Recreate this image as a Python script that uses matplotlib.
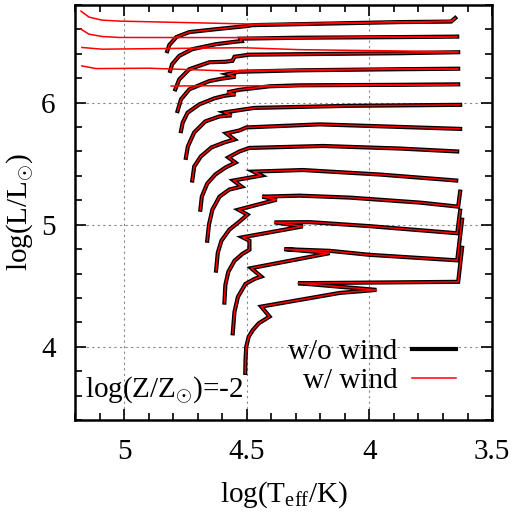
import matplotlib
matplotlib.use("Agg")
from matplotlib import pyplot as plt
from matplotlib.ticker import MultipleLocator

plt.rcParams['font.family'] = 'Liberation Serif'
plt.rcParams['mathtext.fontset'] = 'custom'
plt.rcParams['mathtext.rm'] = 'Liberation Serif'
plt.rcParams['mathtext.it'] = 'Liberation Serif:italic'

# evolutionary tracks without wind, most massive first: log Teff, log L
logT_nowind = [
    [4.824, 4.816, 4.787, 4.734, 4.624, 4.501, 4.476, 4.284, 3.875, 3.667, 3.650],
    [4.812, 4.804, 4.775, 4.722, 4.625, 4.543, 4.521, 4.526, 4.284, 3.875, 3.642],
    [4.791, 4.775, 4.734, 4.652, 4.587, 4.558, 4.550, 4.489, 4.284, 3.875, 3.638],
    [4.782, 4.768, 4.734, 4.652, 4.603, 4.546, 4.579, 4.530, 4.284, 3.875, 3.638],
    [4.768, 4.761, 4.741, 4.693, 4.632, 4.591, 4.546, 4.579, 4.530, 4.407, 4.284, 3.875, 3.638],
    [4.748, 4.740, 4.714, 4.669, 4.611, 4.562, 4.591, 4.509, 4.468, 4.080, 3.630],
    [4.722, 4.714, 4.687, 4.644, 4.591, 4.550, 4.583, 4.530, 4.501, 4.202, 3.875, 3.630],
    [4.689, 4.683, 4.661, 4.628, 4.587, 4.546, 4.575, 4.530, 4.489, 4.190, 3.875, 3.642],
    [4.661, 4.654, 4.640, 4.611, 4.571, 4.521, 4.554, 4.440, 4.472, 4.272, 3.957, 3.646],
    [4.625, 4.618, 4.603, 4.571, 4.530, 4.497, 4.534, 4.378, 4.436, 4.284, 4.080, 3.793,
     3.638, 3.630],
    [4.591, 4.587, 4.575, 4.550, 4.517, 4.489, 4.489, 4.517, 4.272, 4.387, 4.243, 3.998,
     3.642, 3.630],
    [4.557, 4.550, 4.536, 4.505, 4.468, 4.441, 4.482, 4.162, 4.346, 4.162, 3.998, 3.642, 3.622],
    [4.506, 4.505, 4.502, 4.492, 4.475, 4.451, 4.407, 4.441, 4.121, 3.971, 4.291, 4.162,
     3.875, 3.638, 3.622],
]
logL_nowind = [
    [6.422, 6.471, 6.537, 6.578, 6.602, 6.627, 6.635, 6.643, 6.660, 6.664, 6.693],
    [6.260, 6.315, 6.383, 6.438, 6.479, 6.500, 6.504, 6.524, 6.532, 6.537, 6.541],
    [6.109, 6.191, 6.274, 6.331, 6.335, 6.343, 6.376, 6.393, 6.397, 6.405, 6.413],
    [5.931, 6.027, 6.109, 6.177, 6.196, 6.212, 6.233, 6.253, 6.265, 6.274, 6.278],
    [5.767, 5.836, 5.918, 5.986, 6.035, 6.056, 6.068, 6.085, 6.105, 6.134, 6.142, 6.146, 6.150],
    [5.548, 5.641, 5.756, 5.846, 5.887, 5.896, 5.920, 5.945, 5.957, 5.974, 5.982],
    [5.362, 5.477, 5.559, 5.633, 5.674, 5.698, 5.748, 5.772, 5.797, 5.822, 5.801, 5.785],
    [5.123, 5.230, 5.337, 5.411, 5.468, 5.509, 5.551, 5.600, 5.629, 5.645, 5.624, 5.600],
    [4.869, 5.000, 5.123, 5.230, 5.288, 5.312, 5.362, 5.403, 5.435, 5.448, 5.411, 5.362],
    [4.624, 4.770, 4.869, 4.959, 5.025, 5.082, 5.123, 5.205, 5.230, 5.238, 5.222, 5.181,
     5.148, 5.271],
    [4.362, 4.507, 4.614, 4.704, 4.762, 4.795, 4.869, 4.897, 4.986, 5.019, 5.021, 4.988,
     4.930, 5.115],
    [4.110, 4.285, 4.408, 4.515, 4.556, 4.575, 4.644, 4.767, 4.800, 4.786, 4.753, 4.708, 5.041],
    [3.786, 3.891, 4.000, 4.082, 4.137, 4.192, 4.247, 4.329, 4.441, 4.466, 4.521, 4.523,
     4.528, 4.532, 4.811],
]

# with wind the five most massive models turn back to the blue
logT_blueward = [
    [3.650, 3.663, 3.875, 4.460, 5.020, 5.090, 5.143, 5.176],
    [3.642, 4.284, 5.020, 5.090, 5.143, 5.176],
    [3.638, 4.284, 4.517, 4.898, 5.090, 5.172],
    [3.638, 4.284, 4.583, 4.898, 5.115, 5.172],
    [3.638, 4.284, 4.693, 4.808],
]
logL_blueward = [
    [6.693, 6.668, 6.660, 6.643, 6.668, 6.676, 6.701, 6.750],
    [6.541, 6.532, 6.534, 6.542, 6.561, 6.602],
    [6.417, 6.434, 6.450, 6.442, 6.438, 6.452],
    [6.278, 6.270, 6.260, 6.282, 6.279, 6.301],
    [6.146, 6.138, 6.138, 6.136],
]

fig = plt.figure(figsize=(5.12, 5.2), dpi=100)
ax = fig.add_axes([0.1465, 0.1923, 0.8145, 0.7981])

for i, (t, l) in enumerate(zip(logT_nowind, logL_nowind)):
    ax.plot(t, l, color='black', lw=3.0, solid_joinstyle='miter',
            label='w/o wind' if i == 0 else None)

for i, (t, l) in enumerate(zip(logT_nowind, logL_nowind)):
    tw, lw_ = list(t), list(l)
    if i < len(logT_blueward):
        tw += logT_blueward[i]
        lw_ += logL_blueward[i]
    ax.plot(tw, lw_, color='#ff0000', lw=1.1,
            label='w/ wind' if i == 0 else None)

ax.set_xlim(5.2, 3.5)
ax.set_ylim(3.4, 6.8)
ax.xaxis.set_minor_locator(MultipleLocator(0.1))
ax.yaxis.set_minor_locator(MultipleLocator(0.2))
ax.set_xticks([5, 4.5, 4, 3.5])
ax.set_xticklabels(['5', '4.5', '4', '3.5'])
ax.set_yticks([4, 5, 6])

ax.grid(True, which='major', color='#888888', ls=(0, (2, 3)), lw=0.8)
ax.tick_params(which='both', direction='in', top=True, right=True,
               labelsize=21, width=1.2)
ax.tick_params(which='major', length=8, pad=14)
ax.tick_params(which='minor', length=5)
for s in ax.spines.values():
    s.set_linewidth(1.8)

ax.set_xlabel(r'log(T$_{\rm eff}$/K)', fontsize=21, labelpad=10)
ax.set_ylabel(r'log(L/L$_{\odot}$)', fontsize=21, labelpad=4)

ax.text(0.025, 0.035, r'log(Z/Z$_{\odot}$)=-2', transform=ax.transAxes,
        fontsize=21, ha='left', va='bottom')
ax.legend(loc='lower right', frameon=False, markerfirst=False, fontsize=21,
          handlelength=1.5, handletextpad=0.5, labelspacing=0.1,
          borderaxespad=0.2, bbox_to_anchor=(0.955, 0.02))

fig.savefig('out.png', dpi=100)
